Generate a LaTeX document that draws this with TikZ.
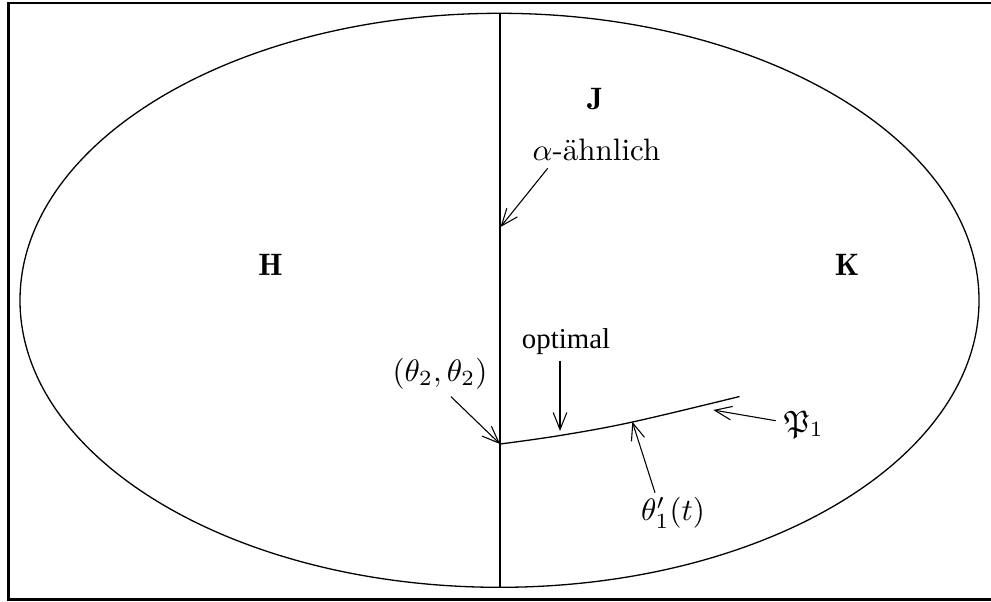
\documentclass[tikz,border=0pt]{standalone}
\usepackage{amssymb}
\usepackage{fontspec}
\newfontfamily\timesfont{Liberation Serif}
\usetikzlibrary{arrows.meta}
\tikzset{
  lbl/.style={anchor=base, inner sep=0pt, outer sep=0pt},
  pointer/.style={line width=0.35pt, -{Straight Barb[length=5.5pt,width=4.4pt]}},
  mainline/.style={line width=0.42pt}
}
\begin{document}
\begin{tikzpicture}[x=0.3226pt, y=-0.3226pt]
\useasboundingbox (0,0) rectangle (991,601);
% frame (right side lies outside the picture)
\coordinate (fr1) at (996,3);
\coordinate (fr2) at (8.7,3);
\coordinate (fr3) at (8.7,599.3);
\coordinate (fr4) at (996,599.3);
\draw[line width=0.8pt, line cap=butt] (fr1) -- (fr2) -- (fr3) -- (fr4);
% ellipse
\draw[mainline] (499.5,300.3) ellipse [x radius=479.5, y radius=287];
\coordinate (top) at (500,13.3);
\coordinate (bot) at (500,587.3);
\draw[mainline] (top) -- (bot);
% curve
\coordinate (c0) at (500,444);
\coordinate (c1) at (560,435.5);
\coordinate (c2) at (632.5,422);
\coordinate (c3) at (739.5,396.5);
\draw[mainline] plot[smooth, tension=0.6] coordinates {(c0) (c1) (c2) (c3)};
% labels
\node[lbl] (H) at (270.5,275) {$\mathbf{H}$};
\node[lbl] (K) at (847,275) {$\mathbf{K}$};
\node[lbl] (J) at (595,109) {$\mathbf{J}$};
\node[lbl] (alpha) at (596.5,160) {$\alpha$-ähnlich};
\node[lbl] (opt) at (566,348) {\fontsize{9.3pt}{11pt}\timesfont optimal};
\node[lbl] (th22) at (440,381) {$(\theta_2,\theta_2)$};
\node[lbl] (thp) at (673,520.5) {$\theta'_1(t)$};
\node[lbl] (P1) at (804,432) {$\mathfrak{P}_1$};
% arrow ends
\coordinate (aT) at (547.7,168.3);
\coordinate (aH) at (500.5,227);
\coordinate (tT) at (451,396.7);
\coordinate (oT) at (560,360.7);
\coordinate (oH) at (560,431);
\coordinate (pT) at (655,492.7);
\coordinate (pH) at (632.3,421.7);
\coordinate (fT) at (775.7,420.7);
\coordinate (fH) at (713.3,410);
\draw[pointer] (aT) -- (aH);
\draw[pointer] (tT) -- (c0);
\draw[pointer] (oT) -- (oH);
\draw[pointer] (pT) -- (pH);
\draw[pointer] (fT) -- (fH);
\end{tikzpicture}
\end{document}
